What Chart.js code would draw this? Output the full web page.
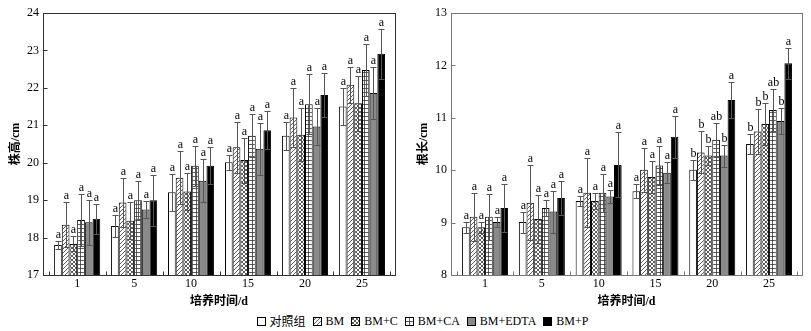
<!DOCTYPE html>
<html>
<head>
<meta charset="utf-8">
<script src="https://cdn.jsdelivr.net/npm/chart.js@4.4.1/dist/chart.umd.min.js"></script>
<style>
    body { margin: 0; background: #fff; width: 811px; height: 331px; position: relative; overflow: hidden; }
    #heightChart { position: absolute; left: 0; top: 0; }
    #rootChart { position: absolute; left: 400px; top: 0; }
    #legend {
        position: absolute; left: 0; top: 312px; width: 811px; box-sizing: border-box; padding-left: 34px;
        display: flex; justify-content: center; align-items: center; gap: 7px;
        font: 12px "Liberation Serif", "Noto Sans CJK SC", serif; color: #000;
    }
    #legend span { display: flex; align-items: center; }
    #legend canvas { margin-right: 4px; }
</style>
</head>
<body>
<canvas id="heightChart" width="400" height="310"></canvas>
<canvas id="rootChart" width="411" height="310"></canvas>
<div id="legend"></div>

<script>
// Catégories (temps de culture, jours) et séries
const categories = ['1', '5', '10', '15', '20', '25'];
const seriesNames = ['对照组', 'BM', 'BM+C', 'BM+CA', 'BM+EDTA', 'BM+P'];

// 株高 /cm
const heightCtrl = [17.80, 18.31, 19.21, 20.01, 20.72, 21.50];
const heightBM = [18.34, 18.94, 19.60, 20.41, 21.21, 22.08];
const heightBMC = [17.83, 18.45, 19.23, 20.07, 20.75, 21.59];
const heightBMCA = [18.47, 19.00, 19.92, 20.72, 21.56, 22.48];
const heightEDTA = [18.41, 18.75, 19.52, 20.37, 20.97, 21.86];
const heightP = [18.50, 19.00, 19.92, 20.87, 21.81, 22.91];
const heightCtrlErr = [0.10, 0.30, 0.50, 0.20, 0.38, 0.49];
const heightBMErr = [0.60, 0.65, 0.70, 0.69, 0.78, 0.49];
const heightBMCErr = [0.20, 0.50, 0.50, 0.60, 0.70, 0.73];
const heightBMCAErr = [0.70, 0.50, 0.53, 0.58, 0.80, 0.69];
const heightEDTAErr = [0.60, 0.22, 0.58, 0.70, 0.50, 0.69];
const heightPErr = [0.40, 0.68, 0.50, 0.50, 0.58, 0.66];
const heightLetters = ['a', 'a', 'a', 'a', 'a', 'a'];

// 根长 /cm
const rootCtrl = [8.91, 9.01, 9.41, 9.60, 10.01, 10.50];
const rootBM = [9.11, 9.38, 9.57, 10.01, 10.34, 10.74];
const rootBMC = [8.91, 9.07, 9.41, 9.87, 10.28, 10.88];
const rootBMCA = [9.11, 9.28, 9.57, 10.09, 10.58, 11.15];
const rootEDTA = [9.01, 9.21, 9.50, 9.95, 10.28, 10.94];
const rootP = [9.28, 9.47, 10.10, 10.64, 11.34, 12.04];
const rootCtrlErr = [0.10, 0.20, 0.10, 0.14, 0.19, 0.20];
const rootBMErr = [0.46, 0.72, 0.66, 0.42, 0.40, 0.43];
const rootBMCErr = [0.10, 0.46, 0.15, 0.30, 0.19, 0.40];
const rootBMCAErr = [0.44, 0.15, 0.36, 0.38, 0.32, 0.40];
const rootEDTAErr = [0.10, 0.40, 0.12, 0.20, 0.21, 0.24];
const rootPErr = [0.46, 0.32, 0.62, 0.40, 0.34, 0.30];
const rootLettersCtrl = ['a', 'a', 'a', 'a', 'b', 'b'];
const rootLettersBM = ['a', 'a', 'a', 'a', 'b', 'b'];
const rootLettersBMC = ['a', 'a', 'a', 'a', 'b', 'b'];
const rootLettersBMCA = ['a', 'a', 'a', 'a', 'ab', 'ab'];
const rootLettersEDTA = ['a', 'a', 'a', 'a', 'b', 'b'];
const rootLettersP = ['a', 'a', 'a', 'a', 'a', 'a'];

const serifFont = '"Liberation Serif", "Noto Sans CJK SC", serif';

// Motifs de remplissage (hachures)
function makeFill(kind) {
    if (kind === 'white') return '#ffffff';
    if (kind === 'gray') return '#8a8a8a';
    if (kind === 'black') return '#000000';
    const c = document.createElement('canvas');
    c.width = 4; c.height = 4;
    const g = c.getContext('2d');
    g.fillStyle = '#fff';
    g.fillRect(0, 0, 4, 4);
    g.strokeStyle = '#333';
    g.lineWidth = 0.8;
    g.beginPath();
    if (kind === 'diag' || kind === 'cross') {
        g.moveTo(-1, 5); g.lineTo(5, -1);
        g.moveTo(-1, 1); g.lineTo(1, -1);
        g.moveTo(3, 5); g.lineTo(5, 3);
    }
    if (kind === 'cross') {
        g.moveTo(-1, -1); g.lineTo(5, 5);
        g.moveTo(3, -1); g.lineTo(5, 1);
        g.moveTo(-1, 3); g.lineTo(1, 5);
    }
    if (kind === 'grid') {
        g.moveTo(0, 0.5); g.lineTo(4, 0.5);
        g.moveTo(0.5, 0); g.lineTo(0.5, 4);
    }
    g.stroke();
    return g.createPattern(c, 'repeat');
}
const fillKinds = ['white', 'diag', 'cross', 'grid', 'gray', 'black'];

// Barres d'erreur + lettres de significativité
const errorBarPlugin = {
    id: 'errorBars',
    afterDatasetsDraw(chart) {
        const ctx = chart.ctx;
        const yScale = chart.scales.y;
        ctx.save();
        chart.data.datasets.forEach((ds, di) => {
            const meta = chart.getDatasetMeta(di);
            meta.data.forEach((bar, i) => {
                const v = ds.data[i].y, e = ds.errors[i];
                const x = Math.round(bar.x) + 0.5;
                const yTop = Math.round(yScale.getPixelForValue(v + e)) + 0.5;
                const yBot = Math.round(yScale.getPixelForValue(v - e)) + 0.5;
                ctx.strokeStyle = '#555';
                ctx.lineWidth = 1;
                ctx.beginPath();
                ctx.moveTo(x, yTop); ctx.lineTo(x, yBot);
                ctx.moveTo(x - 3, yTop); ctx.lineTo(x + 3, yTop);
                ctx.moveTo(x - 3, yBot); ctx.lineTo(x + 3, yBot);
                ctx.stroke();
                ctx.fillStyle = '#000';
                ctx.font = '12px ' + serifFont;
                ctx.textAlign = 'center';
                ctx.textBaseline = 'bottom';
                ctx.fillText(ds.letters[i], x, yTop - 1);
            });
        });
        ctx.restore();
    }
};

// Cadre + petites graduations vers l'intérieur
const framePlugin = {
    id: 'frame',
    afterDraw(chart, args, opts) {
        const { ctx, chartArea: a, scales } = chart;
        ctx.save();
        ctx.strokeStyle = opts.color;
        ctx.lineWidth = 1;
        const l = Math.round(a.left) + 0.5, t = Math.round(a.top) + 0.5;
        const r = Math.round(a.right) + 0.5, b = Math.round(a.bottom) + 0.5;
        ctx.strokeRect(l, t, r - l, b - t);
        ctx.beginPath();
        scales.y.ticks.forEach(tk => {
            const y = Math.round(scales.y.getPixelForValue(tk.value)) + 0.5;
            ctx.moveTo(l, y); ctx.lineTo(l + 4, y);
        });
        for (let i = 0; i <= categories.length; i++) {
            const x = Math.round(scales.x.getPixelForValue(i - 0.5)) + 0.5;
            ctx.moveTo(x, b); ctx.lineTo(x, b - 4);
        }
        ctx.stroke();
        ctx.restore();
    }
};

function buildDatasets(values, errors, letters) {
    return seriesNames.map((name, k) => ({
        label: name,
        data: values[k].map((v, i) => ({ x: i, y: v })),
        errors: errors[k],
        letters: letters[k],
        backgroundColor: makeFill(fillKinds[k]),
        borderColor: '#000',
        borderWidth: 1,
        categoryPercentage: 0.81,
        barPercentage: 1.0
    }));
}

function createChart(canvasId, datasets, yMin, yMax, yTitle, padLeft, padRight, frameColor) {
    const ctx = document.getElementById(canvasId).getContext('2d');
    return new Chart(ctx, {
        type: 'bar',
        data: { datasets: datasets },
        plugins: [errorBarPlugin, framePlugin],
        options: {
            responsive: false,
            animation: false,
            layout: { padding: { left: padLeft, right: padRight, top: 13, bottom: 0 } },
            plugins: {
                legend: { display: false },
                tooltip: { enabled: false },
                frame: { color: frameColor }
            },
            scales: {
                x: {
                    type: 'linear',
                    offset: false,
                    min: -0.6,
                    max: 5.58,
                    grid: { display: false, drawTicks: false, offset: false },
                    border: { display: false },
                    ticks: {
                        stepSize: 1,
                        includeBounds: false,
                        autoSkip: false,
                        maxRotation: 0,
                        padding: 2,
                        color: '#000',
                        font: { family: serifFont, size: 12 },
                        callback: v => categories[v] !== undefined ? categories[v] : ''
                    },
                    title: {
                        display: true,
                        text: '培养时间/d',
                        color: '#000',
                        font: { family: serifFont, size: 12, weight: 'bold' },
                        padding: { top: 4, bottom: 1 }
                    },
                    afterFit: scale => { scale.height = 35; }
                },
                y: {
                    min: yMin,
                    max: yMax,
                    grid: { display: false, drawTicks: false },
                    border: { display: false },
                    ticks: {
                        stepSize: 1,
                        padding: 4,
                        color: '#000',
                        font: { family: serifFont, size: 12 }
                    },
                    title: {
                        display: true,
                        text: yTitle,
                        color: '#000',
                        font: { family: serifFont, size: 12, weight: 'bold' },
                        padding: { top: 4, bottom: 4 }
                    },
                    afterFit: scale => { scale.width = 38; }
                }
            }
        }
    });
}

const heightChart = createChart('heightChart',
    buildDatasets(
        [heightCtrl, heightBM, heightBMC, heightBMCA, heightEDTA, heightP],
        [heightCtrlErr, heightBMErr, heightBMCErr, heightBMCAErr, heightEDTAErr, heightPErr],
        [heightLetters, heightLetters, heightLetters, heightLetters, heightLetters, heightLetters]),
    17, 24, '株高/cm', 5, 5, '#333');

const rootChart = createChart('rootChart',
    buildDatasets(
        [rootCtrl, rootBM, rootBMC, rootBMCA, rootEDTA, rootP],
        [rootCtrlErr, rootBMErr, rootBMCErr, rootBMCAErr, rootEDTAErr, rootPErr],
        [rootLettersCtrl, rootLettersBM, rootLettersBMC, rootLettersBMCA, rootLettersEDTA, rootLettersP]),
    8, 13, '根长/cm', 13, 9, '#777');

// Légende commune (HTML)
const legendDiv = document.getElementById('legend');
seriesNames.forEach((name, k) => {
    const item = document.createElement('span');
    const sw = document.createElement('canvas');
    sw.width = 9; sw.height = 9;
    const g = sw.getContext('2d');
    g.fillStyle = makeFill(fillKinds[k]);
    g.fillRect(0, 0, 9, 9);
    g.strokeStyle = '#000';
    g.lineWidth = 1;
    g.strokeRect(0.5, 0.5, 8, 8);
    item.appendChild(sw);
    item.appendChild(document.createTextNode(name));
    legendDiv.appendChild(item);
});
</script>
</body>
</html>
